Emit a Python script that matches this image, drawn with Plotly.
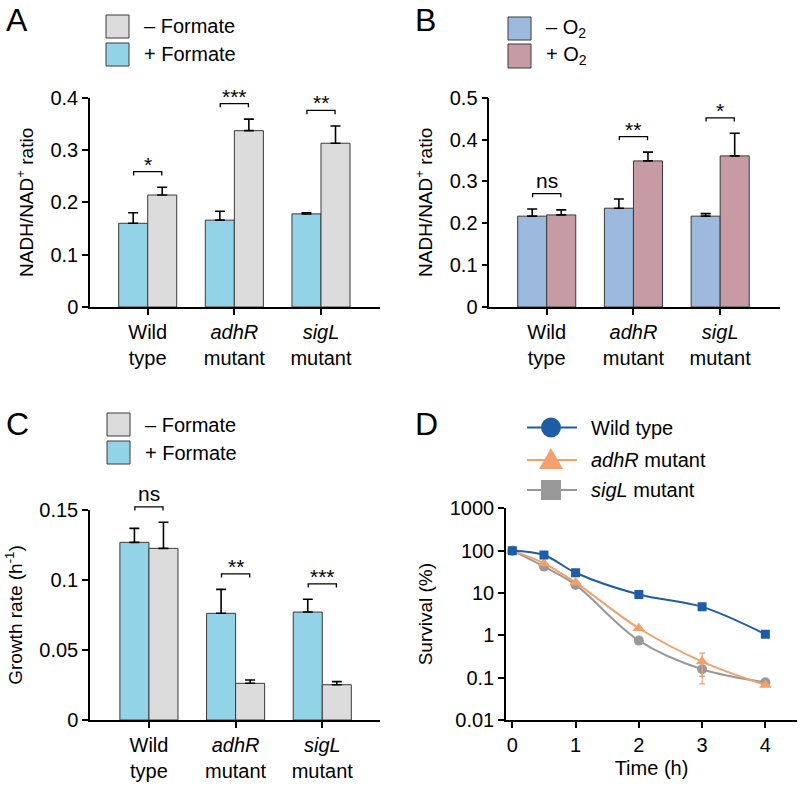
import plotly.graph_objects as go

# ---------------- data ----------------
categories = ["Wild<br>type", "<i>adhR</i><br>mutant", "<i>sigL</i><br>mutant"]

# Panel A: NADH/NAD+ ratio, +/- formate
A_plus = [0.160, 0.166, 0.178]
A_plus_err = [0.020, 0.017, 0.002]
A_minus = [0.214, 0.337, 0.313]
A_minus_err = [0.015, 0.022, 0.033]
A_sig = ["*", "***", "**"]

# Panel B: NADH/NAD+ ratio, -/+ O2
B_noO2 = [0.217, 0.236, 0.217]
B_noO2_err = [0.017, 0.022, 0.006]
B_O2 = [0.220, 0.349, 0.361]
B_O2_err = [0.012, 0.021, 0.054]
B_sig = ["ns", "**", "*"]

# Panel C: growth rate, +/- formate
C_plus = [0.1269, 0.0762, 0.0771]
C_plus_err = [0.0100, 0.0171, 0.0091]
C_minus = [0.1226, 0.0262, 0.0252]
C_minus_err = [0.0186, 0.0024, 0.0022]
C_sig = ["ns", "**", "***"]

# Panel D: survival (%)
time_h = [0, 0.5, 1, 2, 3, 4]
surv_wt = [100, 79, 30, 9.2, 4.7, 1.06]
surv_adhR = [100, 50, 17.6, 1.47, 0.24, 0.067]
surv_adhR_errp = [0, 0, 0, 0, 0.14, 0]
surv_adhR_errm = [0, 0, 0, 0, 0.169, 0]
surv_sigL = [100, 42, 15.5, 0.75, 0.158, 0.078]
surv_sigL_errp = [0, 0, 0, 0, 0.06, 0]
surv_sigL_errm = [0, 0, 0, 0, 0.05, 0]
D_ticks = [0.01, 0.1, 1, 10, 100, 1000]
D_ticktext = ["0.01", "0.1", "1", "10", "100", "1000"]

# ---------------- styling ----------------
W, H = 800, 785
FONT = "Liberation Sans, Arial, sans-serif"
CYAN = "#93d3e7"
GRAY = "#dcdcdc"
BLUE_B = "#9dbade"
PINK = "#c69ba3"
D_BLUE = "#1f5ca8"
D_ORANGE = "#f2a06c"
D_GRAY = "#999999"
EDGE = "#3a3a3a"
TICK_FS = 20
TITLE_FS = 19
LEG_FS = 20

def px(x):
    return x / W

def py(y):
    return 1 - y / H

BARGAP = 0.33
HALF = (1 - BARGAP) / 4  # offset of each bar center from category center

fig = go.Figure()

panels = {
    "A": dict(xa="x", ya="y", xdom=[90, 380], ydom=[97.7, 307], yr=[0, 0.4], xr=[-0.666, 2.681]),
    "B": dict(xa="x2", ya="y2", xdom=[489.3, 780], ydom=[97.7, 307], yr=[0, 0.5], xr=[-0.662, 2.69]),
    "C": dict(xa="x3", ya="y3", xdom=[90, 380], ydom=[510, 720], yr=[0, 0.15], xr=[-0.68, 2.666]),
}

xi = list(range(len(categories)))

def add_bars(p, v1, e1, c1, v2, e2, c2):
    for vals, errs, col in ((v1, e1, c1), (v2, e2, c2)):
        fig.add_trace(go.Bar(
            x=xi, y=vals, xaxis=p["xa"], yaxis=p["ya"],
            marker=dict(color=col, line=dict(color=EDGE, width=1)),
            error_y=dict(type="data", symmetric=False, array=errs,
                         arrayminus=[0] * len(errs), color="black",
                         thickness=1.6, width=5),
            showlegend=False,
        ))

add_bars(panels["A"], A_plus, A_plus_err, CYAN, A_minus, A_minus_err, GRAY)
add_bars(panels["B"], B_noO2, B_noO2_err, BLUE_B, B_O2, B_O2_err, PINK)
add_bars(panels["C"], C_plus, C_plus_err, CYAN, C_minus, C_minus_err, GRAY)

shapes = []
annotations = []

def brackets(p, v1, e1, v2, e2, labels):
    y0, y1 = p["yr"]
    h_px = p["ydom"][1] - p["ydom"][0]
    x0, x1 = p["xr"]
    for i, lab in enumerate(labels):
        top = max(v1[i] + e1[i], v2[i] + e2[i])
        fy = (top - y0) / (y1 - y0) + 15.5 / h_px
        drop = 3.7 / h_px
        xa = (i - HALF + 0.005 - x0) / (x1 - x0)
        xb = (i + HALF - 0.005 - x0) / (x1 - x0)
        shapes.append(dict(
            type="path", xref=p["xa"] + " domain", yref=p["ya"] + " domain",
            path=f"M {xa},{fy - drop} L {xa},{fy} L {xb},{fy} L {xb},{fy - drop}",
            line=dict(color="black", width=1.3),
        ))
        annotations.append(dict(
            xref=p["xa"] + " domain", yref=p["ya"] + " domain",
            x=(xa + xb) / 2, y=fy, yanchor="bottom", xanchor="center",
            text=lab, showarrow=False,
            yshift=0 if lab == "ns" else -6,
            font=dict(family=FONT, size=21, color="black"),
        ))

brackets(panels["A"], A_plus, A_plus_err, A_minus, A_minus_err, A_sig)
brackets(panels["B"], B_noO2, B_noO2_err, B_O2, B_O2_err, B_sig)
brackets(panels["C"], C_plus, C_plus_err, C_minus, C_minus_err, C_sig)

# ---------- Panel D ----------
fig.add_trace(go.Scatter(
    x=time_h, y=surv_sigL, xaxis="x4", yaxis="y4", mode="lines+markers",
    line=dict(color=D_GRAY, width=2, shape="spline", smoothing=1),
    marker=dict(symbol="circle", size=10, color=D_GRAY),
    error_y=dict(type="data", symmetric=False, array=surv_sigL_errp,
                 arrayminus=surv_sigL_errm, color=D_GRAY, thickness=1.2, width=3),
    showlegend=False))
fig.add_trace(go.Scatter(
    x=time_h, y=surv_adhR, xaxis="x4", yaxis="y4", mode="lines+markers",
    line=dict(color=D_ORANGE, width=2, shape="spline", smoothing=1),
    marker=dict(symbol="triangle-up", size=11, color=D_ORANGE),
    error_y=dict(type="data", symmetric=False, array=surv_adhR_errp,
                 arrayminus=surv_adhR_errm, color=D_ORANGE, thickness=1.2, width=3),
    showlegend=False))
fig.add_trace(go.Scatter(
    x=time_h, y=surv_wt, xaxis="x4", yaxis="y4", mode="lines+markers",
    line=dict(color=D_BLUE, width=2, shape="spline", smoothing=1),
    marker=dict(symbol="square", size=9, color=D_BLUE),
    showlegend=False))

# ---------- axes ----------
axis_common = dict(showline=True, linecolor="black", linewidth=1.5,
                   ticks="outside", tickcolor="black", ticklen=6, tickwidth=1.5,
                   showgrid=False, zeroline=False, automargin=False,
                   tickfont=dict(family=FONT, size=TICK_FS, color="black"))

def dom_x(d):
    return [px(d[0]), px(d[1])]

def dom_y(d):
    return [py(d[1]), py(d[0])]

ytitles = {"A": "NADH/NAD<sup>+</sup> ratio", "B": "NADH/NAD<sup>+</sup> ratio",
           "C": "Growth rate (h<sup>-1</sup>)"}
ydticks = {"A": 0.1, "B": 0.1, "C": 0.05}
layout_axes = {}
for i, (k, p) in enumerate(panels.items()):
    n = "" if i == 0 else str(i + 1)
    layout_axes["xaxis" + n] = dict(axis_common, domain=dom_x(p["xdom"]), range=p["xr"],
                                    anchor="y" + n, tickvals=xi, ticktext=categories)
    layout_axes["yaxis" + n] = dict(axis_common, domain=dom_y(p["ydom"]), range=p["yr"],
                                    anchor="x" + n, dtick=ydticks[k], tick0=0,
                                    tickformat="~g",
                                    title=dict(text=ytitles[k], standoff=12,
                                               font=dict(family=FONT, size=TITLE_FS, color="black")))

layout_axes["xaxis4"] = dict(axis_common, domain=dom_x([506, 797]), range=[-0.1, 4.5],
                             anchor="y4", tickvals=[0, 1, 2, 3, 4],
                             title=dict(text="Time (h)", standoff=6,
                                        font=dict(family=FONT, size=TICK_FS, color="black")))
layout_axes["yaxis4"] = dict(axis_common, domain=dom_y([508.3, 720]), type="log",
                             range=[-2, 3], anchor="x4", tickvals=D_ticks, ticktext=D_ticktext,
                             title=dict(text="Survival (%)", standoff=12,
                                        font=dict(family=FONT, size=TITLE_FS, color="black")))

# ---------- panel letters ----------
for lab, x, y in (("A", 4, 0), ("B", 413, 0), ("C", 4, 404), ("D", 413, 404)):
    annotations.append(dict(xref="paper", yref="paper", x=px(x), y=py(y),
                            xanchor="left", yanchor="top", text=lab, showarrow=False,
                            font=dict(family=FONT, size=32, color="black")))

# ---------- manual legends for bar panels ----------
def bar_legend(x0, ys, cols, texts):
    for (yt, yb), col, txt in zip(ys, cols, texts):
        shapes.append(dict(type="rect", xref="paper", yref="paper",
                           x0=px(x0), x1=px(x0 + 23), y0=py(yb), y1=py(yt),
                           fillcolor=col, line=dict(color=EDGE, width=1)))
        annotations.append(dict(xref="paper", yref="paper", x=px(x0 + 36), y=py((yt + yb) / 2),
                                xanchor="left", yanchor="middle", text=txt, showarrow=False,
                                font=dict(family=FONT, size=LEG_FS, color="black")))

bar_legend(106, [(15, 38), (43, 66)], [GRAY, CYAN], ["\u2013 Formate", "+ Formate"])
bar_legend(508, [(17, 40), (44, 68)], [BLUE_B, PINK], ["\u2013 O<sub>2</sub>", "+ O<sub>2</sub>"])
bar_legend(107, [(413, 436), (441, 464)], [GRAY, CYAN], ["\u2013 Formate", "+ Formate"])

# ---------- manual legend for panel D ----------
d_leg = [("Wild type", D_BLUE, "circle", 427.5),
         ("<i>adhR</i> mutant", D_ORANGE, "triangle", 460),
         ("<i>sigL</i> mutant", D_GRAY, "square", 490)]
for txt, col, sym, yc in d_leg:
    shapes.append(dict(type="line", xref="paper", yref="paper",
                       x0=px(527), x1=px(577), y0=py(yc), y1=py(yc),
                       line=dict(color=col, width=2)))
    cx = 551
    r = 10
    if sym == "circle":
        shapes.append(dict(type="circle", xref="paper", yref="paper",
                           x0=px(cx - r), x1=px(cx + r), y0=py(yc + r), y1=py(yc - r),
                           fillcolor=col, line=dict(color=col, width=0)))
    elif sym == "square":
        shapes.append(dict(type="rect", xref="paper", yref="paper",
                           x0=px(cx - r), x1=px(cx + r), y0=py(yc + r), y1=py(yc - r),
                           fillcolor=col, line=dict(color=col, width=0)))
    else:
        path = (f"M {px(cx - 12)},{py(yc + 9)} L {px(cx + 12)},{py(yc + 9)} "
                f"L {px(cx)},{py(yc - 12)} Z")
        shapes.append(dict(type="path", xref="paper", yref="paper", path=path,
                           fillcolor=col, line=dict(color=col, width=0)))
    annotations.append(dict(xref="paper", yref="paper", x=px(589), y=py(yc),
                            xanchor="left", yanchor="middle", text=txt, showarrow=False,
                            font=dict(family=FONT, size=LEG_FS, color="black")))

fig.update_layout(
    width=W, height=H, margin=dict(l=0, r=0, t=0, b=0, autoexpand=False),
    paper_bgcolor="white", plot_bgcolor="white",
    barmode="group", bargap=BARGAP, bargroupgap=0,
    font=dict(family=FONT, color="black"),
    shapes=shapes, annotations=annotations,
    **layout_axes,
)

fig.write_html("out.html", config={"displayModeBar": False},
               post_script="document.body.style.margin='0';document.body.style.overflow='hidden';")
